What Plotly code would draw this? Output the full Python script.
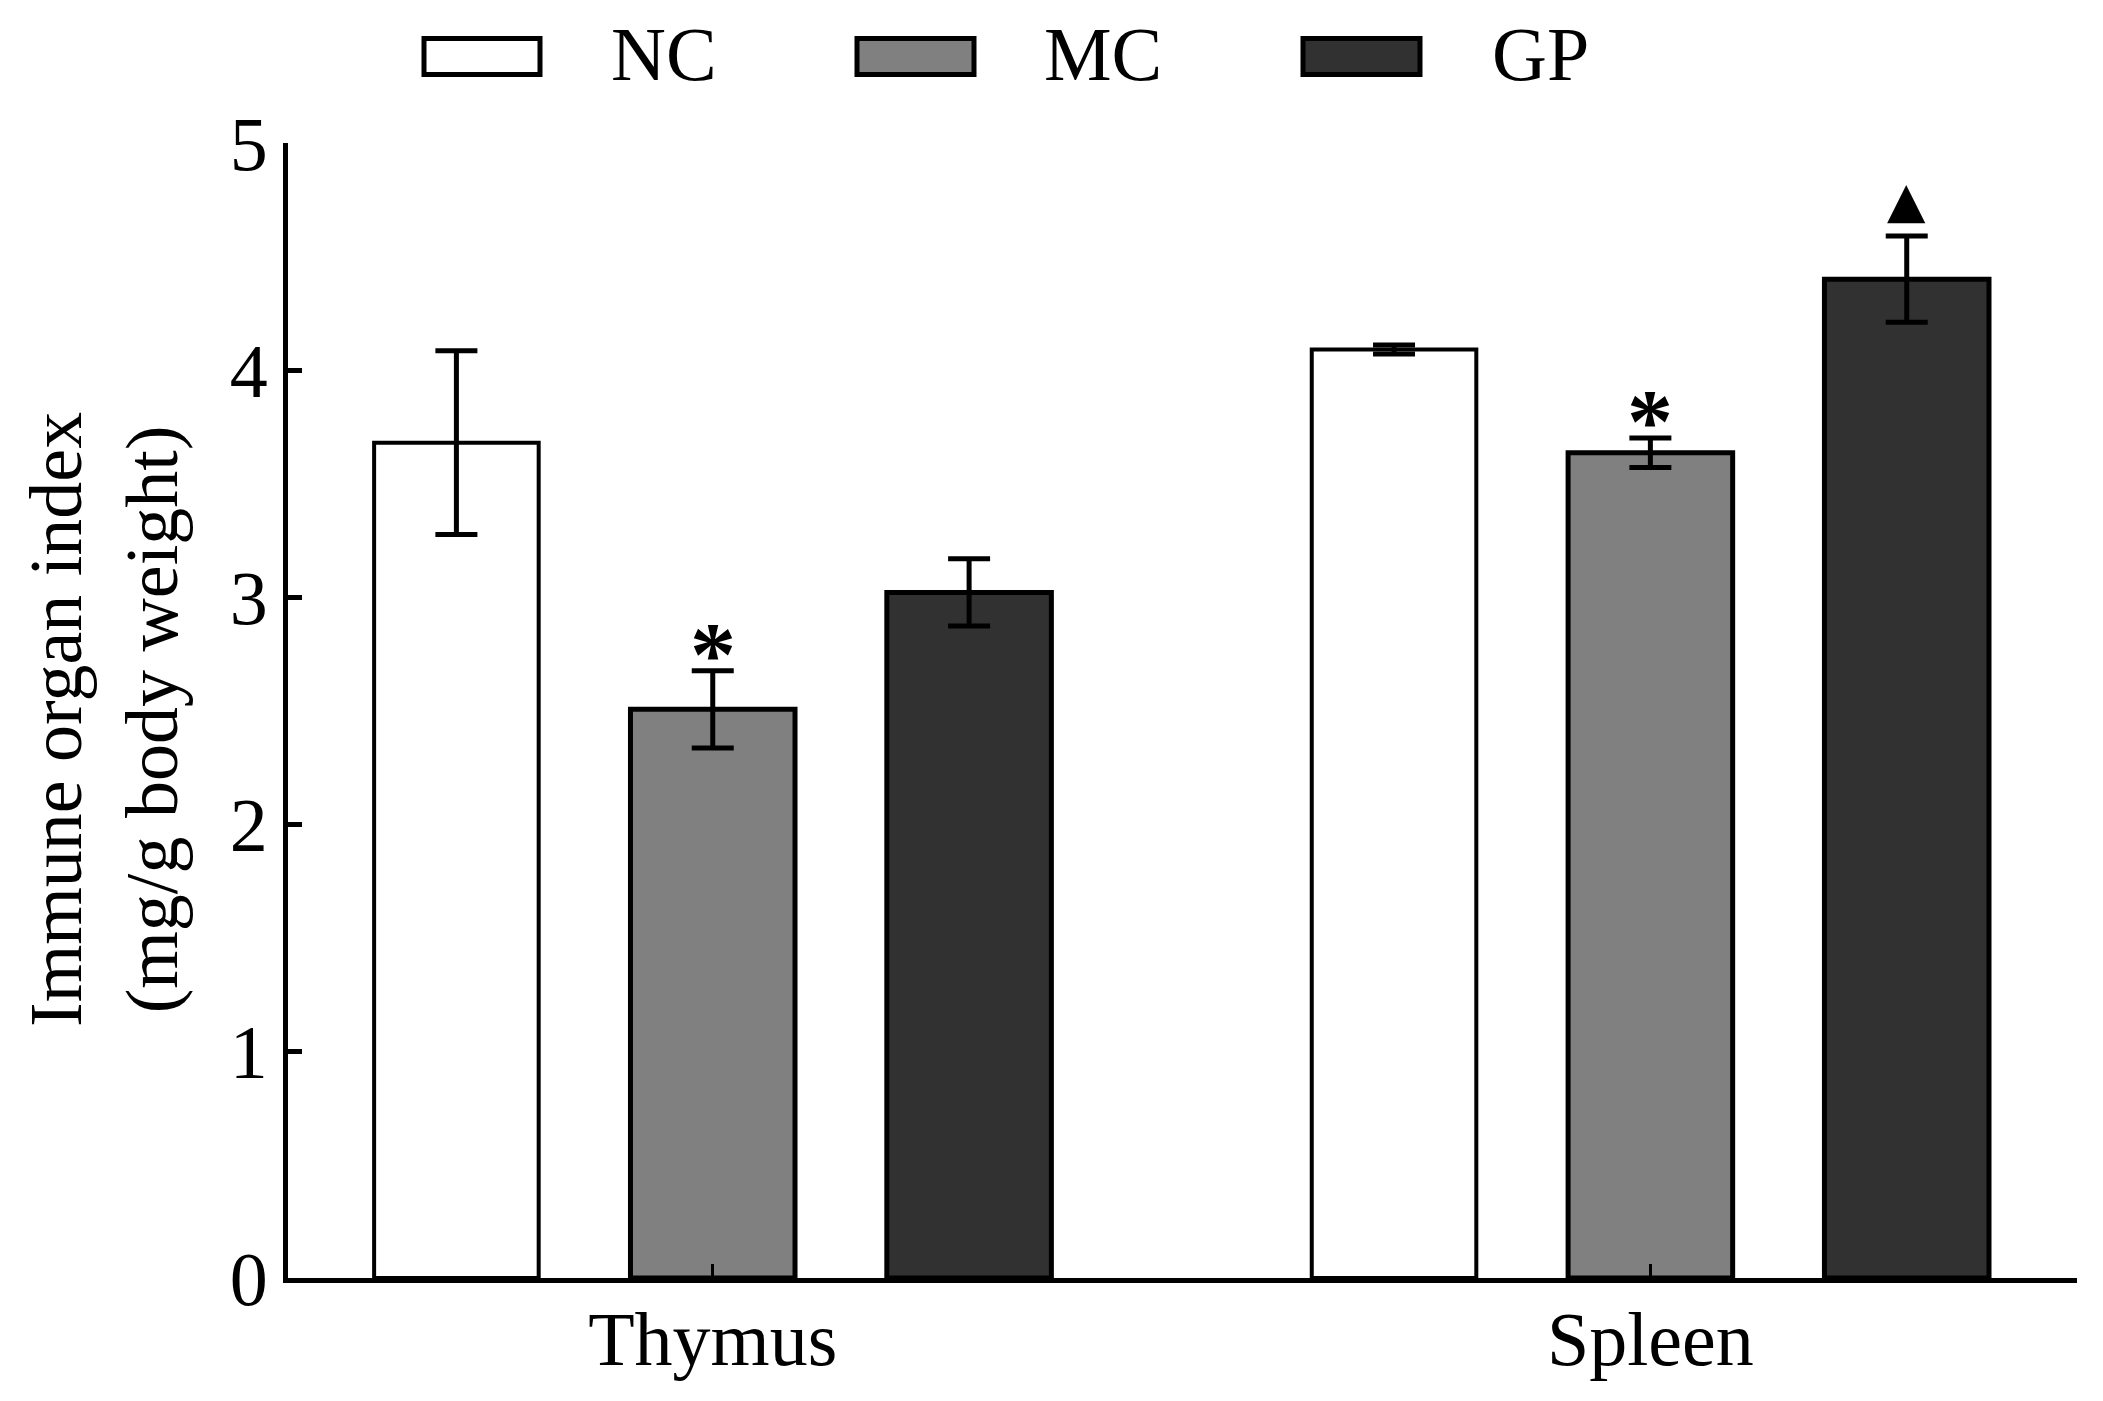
import plotly.graph_objects as go

# ---------------- data ----------------
categories = ["Thymus", "Spleen"]
series_names = ["NC", "MC", "GP"]
nc_values = [3.68, 4.09]
mc_values = [2.505, 3.635]
gp_values = [3.02, 4.40]
nc_errors = [0.405, 0.02]
mc_errors = [0.17, 0.065]
gp_errors = [0.148, 0.19]
nc_marks = ["", ""]
mc_marks = ["*", "*"]
gp_marks = ["", "▲"]
y_ticks = [0, 1, 2, 3, 4, 5]

values = [nc_values, mc_values, gp_values]
errors = [nc_errors, mc_errors, gp_errors]
marks = [nc_marks, mc_marks, gp_marks]
fills = ["#ffffff", "#808080", "#313131"]
outline = [4, 5, 5]

# ---------------- layout constants ----------------
W, H = 2103, 1401
L, R, T, B = 288, 26, 143, 123
PW, PH = W - L - R, H - T - B
STEP = 0.2734      # distance between bar centres within a group
BAR_W = 0.1755     # bar width in category units
FONT = "Liberation Serif"


def px_x(px):
    return (px - L) / PW


def px_y(py):
    return (H - B - py) / PH


group_pos = list(range(len(categories)))

fig = go.Figure()
for i, name in enumerate(series_names):
    xs = [g + (i - 1) * STEP for g in group_pos]
    fig.add_trace(go.Bar(
        x=xs, y=values[i], width=BAR_W, name=name,
        marker=dict(color=fills[i], line=dict(color="black", width=outline[i])),
        error_y=dict(type="data", array=errors[i], visible=True,
                     color="black", thickness=5, width=21),
        showlegend=False,
    ))

annotations = []
# significance marks above error bars
for i in range(len(series_names)):
    for g in group_pos:
        m = marks[i][g]
        if not m:
            continue
        top = values[i][g] + errors[i][g]
        if m == "*":
            annotations.append(dict(
                x=g + (i - 1) * STEP, y=top, xref="x", yref="y",
                text="<b>*</b>", showarrow=False, yanchor="bottom",
                yshift=-36, font=dict(family=FONT, size=92, color="black")))
        else:
            annotations.append(dict(
                x=g + (i - 1) * STEP, y=top, xref="x", yref="y",
                text=m, showarrow=False, yanchor="bottom",
                yshift=5, font=dict(family="DejaVu Sans", size=50, color="black")))

# custom legend (wide rectangles like the original)
legend_boxes = [(424, 540), (857, 974), (1303, 1420)]
legend_text_x = [609, 1042, 1490]
shapes = []
for i, name in enumerate(series_names):
    x0, x1 = legend_boxes[i]
    shapes.append(dict(type="rect", xref="paper", yref="paper",
                       x0=px_x(x0), x1=px_x(x1), y0=px_y(74.5), y1=px_y(38.5),
                       fillcolor=fills[i], line=dict(color="black", width=5)))
    annotations.append(dict(x=px_x(legend_text_x[i]), y=px_y(54), xref="paper", yref="paper",
                            text=name, showarrow=False, xanchor="left", yanchor="middle",
                            font=dict(family=FONT, size=76, color="black")))

# y-axis title
annotations.append(dict(x=px_x(104), y=px_y(720), xref="paper", yref="paper",
                        text="Immune organ index<br>(mg/g body weight)",
                        textangle=-90, showarrow=False, xanchor="center", yanchor="middle",
                        font=dict(family=FONT, size=74, color="black")))

fig.update_layout(
    width=W, height=H,
    margin=dict(l=L, r=R, t=T, b=B),
    paper_bgcolor="white", plot_bgcolor="white",
    barmode="overlay",
    showlegend=False,
    shapes=shapes,
    annotations=annotations,
    font=dict(family=FONT, color="black"),
)
fig.update_xaxes(
    range=[-0.453, 1.455],
    tickmode="array", tickvals=group_pos, ticktext=categories,
    ticks="inside", ticklen=14, tickwidth=3, tickcolor="black",
    showline=True, linecolor="black", linewidth=5,
    showgrid=False, zeroline=False,
    tickfont=dict(family=FONT, size=76, color="black"),
    ticklabelstandoff=-9,
)
fig.update_yaxes(
    range=[0, 5],
    tickmode="array", tickvals=y_ticks,
    ticks="inside", ticklen=14, tickwidth=5, tickcolor="black",
    showline=True, linecolor="black", linewidth=5,
    showgrid=False, zeroline=False,
    tickfont=dict(family=FONT, size=76, color="black"),
    ticklabelstandoff=0,
)

fig.write_html(
    "out.html",
    config={"displayModeBar": False},
    post_script="document.body.style.margin='0';document.body.style.overflow='hidden';",
)
